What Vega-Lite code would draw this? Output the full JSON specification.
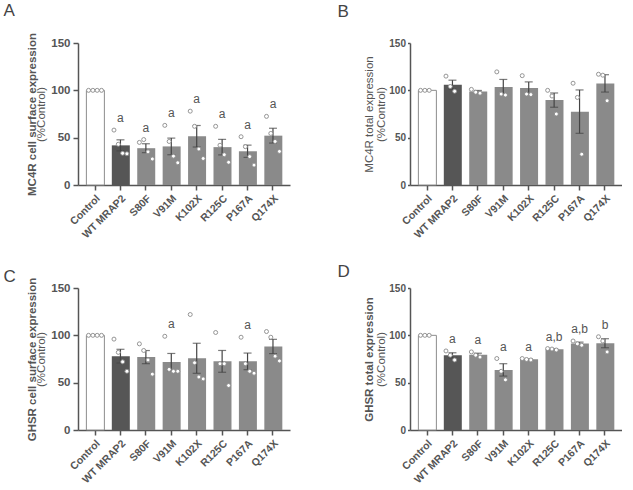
{
  "$schema": "https://vega.github.io/schema/vega-lite/v6.json",
  "padding": {"left": 3, "top": 1, "right": 0, "bottom": 0},
  "background": "white",
  "datasets": {
    "A": [
      {"g": "Control", "r": 1, "v": 100}, {"g": "Control", "r": 2, "v": 100}, {"g": "Control", "r": 3, "v": 100}, {"g": "Control", "r": 4, "v": 100},
      {"g": "WT MRAP2", "r": 1, "v": 58}, {"g": "WT MRAP2", "r": 2, "v": 43}, {"g": "WT MRAP2", "r": 3, "v": 33.5}, {"g": "WT MRAP2", "r": 4, "v": 33},
      {"g": "S80F", "r": 1, "v": 45}, {"g": "S80F", "r": 2, "v": 48}, {"g": "S80F", "r": 3, "v": 35}, {"g": "S80F", "r": 4, "v": 27.5},
      {"g": "V91M", "r": 1, "v": 63}, {"g": "V91M", "r": 2, "v": 46}, {"g": "V91M", "r": 3, "v": 30.5}, {"g": "V91M", "r": 4, "v": 23.5},
      {"g": "K102X", "r": 1, "v": 78}, {"g": "K102X", "r": 2, "v": 62}, {"g": "K102X", "r": 3, "v": 38}, {"g": "K102X", "r": 4, "v": 28},
      {"g": "R125C", "r": 1, "v": 62}, {"g": "R125C", "r": 2, "v": 42}, {"g": "R125C", "r": 3, "v": 32}, {"g": "R125C", "r": 4, "v": 24},
      {"g": "P167A", "r": 1, "v": 51}, {"g": "P167A", "r": 2, "v": 40.5}, {"g": "P167A", "r": 3, "v": 30}, {"g": "P167A", "r": 4, "v": 21},
      {"g": "Q174X", "r": 1, "v": 72.5}, {"g": "Q174X", "r": 2, "v": 54.5}, {"g": "Q174X", "r": 3, "v": 46}, {"g": "Q174X", "r": 4, "v": 35.5}
    ],
    "B": [
      {"g": "Control", "r": 1, "v": 100}, {"g": "Control", "r": 2, "v": 100}, {"g": "Control", "r": 3, "v": 100},
      {"g": "WT MRAP2", "r": 1, "v": 115}, {"g": "WT MRAP2", "r": 2, "v": 104}, {"g": "WT MRAP2", "r": 3, "v": 99},
      {"g": "S80F", "r": 1, "v": 101}, {"g": "S80F", "r": 2, "v": 98}, {"g": "S80F", "r": 3, "v": 97},
      {"g": "V91M", "r": 1, "v": 119.5}, {"g": "V91M", "r": 2, "v": 96}, {"g": "V91M", "r": 3, "v": 95},
      {"g": "K102X", "r": 1, "v": 115.5}, {"g": "K102X", "r": 2, "v": 96}, {"g": "K102X", "r": 3, "v": 95.5},
      {"g": "R125C", "r": 1, "v": 100}, {"g": "R125C", "r": 2, "v": 94}, {"g": "R125C", "r": 3, "v": 75},
      {"g": "P167A", "r": 1, "v": 107.5}, {"g": "P167A", "r": 2, "v": 92.5}, {"g": "P167A", "r": 3, "v": 32.5},
      {"g": "Q174X", "r": 1, "v": 117}, {"g": "Q174X", "r": 2, "v": 116}, {"g": "Q174X", "r": 3, "v": 89}
    ],
    "C": [
      {"g": "Control", "r": 1, "v": 100}, {"g": "Control", "r": 2, "v": 100}, {"g": "Control", "r": 3, "v": 100}, {"g": "Control", "r": 4, "v": 100},
      {"g": "WT MRAP2", "r": 1, "v": 96}, {"g": "WT MRAP2", "r": 2, "v": 82}, {"g": "WT MRAP2", "r": 3, "v": 72}, {"g": "WT MRAP2", "r": 4, "v": 62},
      {"g": "S80F", "r": 1, "v": 91}, {"g": "S80F", "r": 2, "v": 84}, {"g": "S80F", "r": 3, "v": 74}, {"g": "S80F", "r": 4, "v": 59},
      {"g": "V91M", "r": 1, "v": 99}, {"g": "V91M", "r": 2, "v": 64}, {"g": "V91M", "r": 3, "v": 62}, {"g": "V91M", "r": 4, "v": 62},
      {"g": "K102X", "r": 1, "v": 122}, {"g": "K102X", "r": 2, "v": 71}, {"g": "K102X", "r": 3, "v": 56}, {"g": "K102X", "r": 4, "v": 54},
      {"g": "R125C", "r": 1, "v": 103}, {"g": "R125C", "r": 2, "v": 70}, {"g": "R125C", "r": 3, "v": 70}, {"g": "R125C", "r": 4, "v": 47},
      {"g": "P167A", "r": 1, "v": 98}, {"g": "P167A", "r": 2, "v": 70}, {"g": "P167A", "r": 3, "v": 62}, {"g": "P167A", "r": 4, "v": 60},
      {"g": "Q174X", "r": 1, "v": 104}, {"g": "Q174X", "r": 2, "v": 98}, {"g": "Q174X", "r": 3, "v": 78}, {"g": "Q174X", "r": 4, "v": 73}
    ],
    "D": [
      {"g": "Control", "r": 1, "v": 100}, {"g": "Control", "r": 2, "v": 100}, {"g": "Control", "r": 3, "v": 100},
      {"g": "WT MRAP2", "r": 1, "v": 83.5}, {"g": "WT MRAP2", "r": 2, "v": 79}, {"g": "WT MRAP2", "r": 3, "v": 74},
      {"g": "S80F", "r": 1, "v": 82.5}, {"g": "S80F", "r": 2, "v": 79}, {"g": "S80F", "r": 3, "v": 77},
      {"g": "V91M", "r": 1, "v": 75.5}, {"g": "V91M", "r": 2, "v": 62}, {"g": "V91M", "r": 3, "v": 53},
      {"g": "K102X", "r": 1, "v": 75.5}, {"g": "K102X", "r": 2, "v": 74.5}, {"g": "K102X", "r": 3, "v": 74},
      {"g": "R125C", "r": 1, "v": 86}, {"g": "R125C", "r": 2, "v": 85.5}, {"g": "R125C", "r": 3, "v": 84.5},
      {"g": "P167A", "r": 1, "v": 94}, {"g": "P167A", "r": 2, "v": 91}, {"g": "P167A", "r": 3, "v": 89.5},
      {"g": "Q174X", "r": 1, "v": 98.5}, {"g": "Q174X", "r": 2, "v": 94}, {"g": "Q174X", "r": 3, "v": 82.5}
    ],
    "LA": [
      {"g": "WT MRAP2", "t": "a"}, {"g": "S80F", "t": "a"}, {"g": "V91M", "t": "a"}, {"g": "K102X", "t": "a"},
      {"g": "R125C", "t": "a"}, {"g": "P167A", "t": "a"}, {"g": "Q174X", "t": "a"}
    ],
    "LC": [
      {"g": "V91M", "t": "a"}, {"g": "P167A", "t": "a"}
    ],
    "LD": [
      {"g": "WT MRAP2", "t": "a"}, {"g": "S80F", "t": "a"}, {"g": "V91M", "t": "a"}, {"g": "K102X", "t": "a"},
      {"g": "R125C", "t": "a,b"}, {"g": "P167A", "t": "a,b"}, {"g": "Q174X", "t": "b"}
    ]
  },
  "vconcat": [
    {
      "hconcat": [
        {
          "width": 212, "height": 142,
          "data": {"name": "A"},
          "encoding": {"x": {"field": "g", "type": "nominal", "sort": ["Control", "WT MRAP2", "S80F", "V91M", "K102X", "R125C", "P167A", "Q174X"], "scale": {"paddingInner": 0.32, "paddingOuter": 0.33}}},
          "layer": [
            {"mark": {"type": "bar", "strokeWidth": 1},
             "encoding": {
               "y": {"aggregate": "mean", "field": "v", "type": "quantitative", "scale": {"domain": [0, 150], "nice": false}, "axis": {"values": [0, 50, 100, 150], "title": "(%Control)", "titleFontWeight": "normal", "titlePadding": 4}},
               "fill": {"field": "g", "type": "nominal", "scale": {"domain": ["Control", "WT MRAP2", "S80F", "V91M", "K102X", "R125C", "P167A", "Q174X"], "range": ["#ffffff", "#565656", "#8a8a8a", "#8a8a8a", "#8a8a8a", "#8a8a8a", "#8a8a8a", "#8a8a8a"]}, "legend": null},
               "stroke": {"condition": {"test": "datum.g === 'Control'", "value": "#8c8c8c"}, "value": null}}},
            {"mark": {"type": "errorbar", "extent": "stderr", "color": "#444444", "thickness": 1.2, "ticks": {"size": 8, "thickness": 1.2, "color": "#444444"}},
             "encoding": {"y": {"field": "v", "type": "quantitative", "axis": {"orient": "left", "labels": false, "ticks": false, "domain": false, "title": "A", "titleX": -75, "titleY": -28, "titleAngle": 0, "titleAlign": "left", "titleBaseline": "alphabetic", "titleFontSize": 17, "titleFontWeight": "normal", "titleColor": "#444444"}}}},
            {"mark": {"type": "point", "shape": "circle", "filled": false, "fill": "#ffffff", "fillOpacity": 1, "stroke": "#8a8a8a", "strokeWidth": 0.9, "size": 16, "opacity": 1},
             "encoding": {
               "xOffset": {"field": "r", "type": "nominal"},
               "y": {"field": "v", "type": "quantitative", "axis": {"orient": "left", "title": "MC4R cell surface expression", "titleFontWeight": "bold", "labels": false, "ticks": false, "domain": false, "titlePadding": 41}}}},
            {"transform": [
               {"aggregate": [{"op": "max", "field": "v", "as": "top"}], "groupby": ["g"]},
               {"lookup": "g", "from": {"data": {"name": "LA"}, "key": "g", "fields": ["t"]}},
               {"filter": "datum.t != null"}],
             "mark": {"type": "text", "baseline": "alphabetic", "dy": -8, "fontSize": 12, "font": "Liberation Sans", "fill": "#555555"},
             "encoding": {"y": {"field": "top", "type": "quantitative", "axis": null}, "text": {"field": "t"}}}
          ],
          "resolve": {"axis": {"y": "independent"}}
        },
        {
          "width": 212, "height": 142,
          "data": {"name": "B"},
          "encoding": {"x": {"field": "g", "type": "nominal", "sort": ["Control", "WT MRAP2", "S80F", "V91M", "K102X", "R125C", "P167A", "Q174X"], "scale": {"paddingInner": 0.32, "paddingOuter": 0.33}}},
          "layer": [
            {"mark": {"type": "bar", "strokeWidth": 1},
             "encoding": {
               "y": {"aggregate": "mean", "field": "v", "type": "quantitative", "scale": {"domain": [0, 150], "nice": false}, "axis": {"values": [0, 50, 100, 150], "title": "(%Control)", "titleFontWeight": "normal", "titlePadding": 2, "tickSize": 2.5, "labelFontSize": 10, "labelPadding": 2}},
               "fill": {"field": "g", "type": "nominal", "scale": {"domain": ["Control", "WT MRAP2", "S80F", "V91M", "K102X", "R125C", "P167A", "Q174X"], "range": ["#ffffff", "#565656", "#8a8a8a", "#8a8a8a", "#8a8a8a", "#8a8a8a", "#8a8a8a", "#8a8a8a"]}, "legend": null},
               "stroke": {"condition": {"test": "datum.g === 'Control'", "value": "#8c8c8c"}, "value": null}}},
            {"mark": {"type": "errorbar", "extent": "stderr", "color": "#444444", "thickness": 1.2, "ticks": {"size": 8, "thickness": 1.2, "color": "#444444"}},
             "encoding": {"y": {"field": "v", "type": "quantitative", "axis": {"orient": "left", "labels": false, "ticks": false, "domain": false, "title": "B", "titleX": -73, "titleY": -27, "titleAngle": 0, "titleAlign": "left", "titleBaseline": "alphabetic", "titleFontSize": 17, "titleFontWeight": "normal", "titleColor": "#444444"}}}},
            {"mark": {"type": "point", "shape": "circle", "filled": false, "fill": "#ffffff", "fillOpacity": 1, "stroke": "#8a8a8a", "strokeWidth": 0.9, "size": 16, "opacity": 1},
             "encoding": {
               "xOffset": {"field": "r", "type": "nominal"},
               "y": {"field": "v", "type": "quantitative", "axis": {"orient": "left", "title": "MC4R total expression", "titleFontWeight": "normal", "labels": false, "ticks": false, "domain": false, "titlePadding": 36}}}}
          ],
          "resolve": {"axis": {"y": "independent"}}
        }
      ]
    },
    {
      "hconcat": [
        {
          "width": 212, "height": 142,
          "data": {"name": "C"},
          "encoding": {"x": {"field": "g", "type": "nominal", "sort": ["Control", "WT MRAP2", "S80F", "V91M", "K102X", "R125C", "P167A", "Q174X"], "scale": {"paddingInner": 0.32, "paddingOuter": 0.33}}},
          "layer": [
            {"mark": {"type": "bar", "strokeWidth": 1},
             "encoding": {
               "y": {"aggregate": "mean", "field": "v", "type": "quantitative", "scale": {"domain": [0, 150], "nice": false}, "axis": {"values": [0, 50, 100, 150], "title": "(%Control)", "titleFontWeight": "normal", "titlePadding": 4}},
               "fill": {"field": "g", "type": "nominal", "scale": {"domain": ["Control", "WT MRAP2", "S80F", "V91M", "K102X", "R125C", "P167A", "Q174X"], "range": ["#ffffff", "#565656", "#8a8a8a", "#8a8a8a", "#8a8a8a", "#8a8a8a", "#8a8a8a", "#8a8a8a"]}, "legend": null},
               "stroke": {"condition": {"test": "datum.g === 'Control'", "value": "#8c8c8c"}, "value": null}}},
            {"mark": {"type": "errorbar", "extent": "stderr", "color": "#444444", "thickness": 1.2, "ticks": {"size": 8, "thickness": 1.2, "color": "#444444"}},
             "encoding": {"y": {"field": "v", "type": "quantitative", "axis": {"orient": "left", "labels": false, "ticks": false, "domain": false, "title": "C", "titleX": -75, "titleY": -7, "titleAngle": 0, "titleAlign": "left", "titleBaseline": "alphabetic", "titleFontSize": 17, "titleFontWeight": "normal", "titleColor": "#444444"}}}},
            {"mark": {"type": "point", "shape": "circle", "filled": false, "fill": "#ffffff", "fillOpacity": 1, "stroke": "#8a8a8a", "strokeWidth": 0.9, "size": 16, "opacity": 1},
             "encoding": {
               "xOffset": {"field": "r", "type": "nominal"},
               "y": {"field": "v", "type": "quantitative", "axis": {"orient": "left", "title": "GHSR cell surface expression", "titleFontWeight": "bold", "labels": false, "ticks": false, "domain": false, "titlePadding": 41}}}},
            {"transform": [
               {"aggregate": [{"op": "max", "field": "v", "as": "top"}], "groupby": ["g"]},
               {"lookup": "g", "from": {"data": {"name": "LC"}, "key": "g", "fields": ["t"]}},
               {"filter": "datum.t != null"}],
             "mark": {"type": "text", "baseline": "alphabetic", "dy": -8, "fontSize": 12, "font": "Liberation Sans", "fill": "#555555"},
             "encoding": {"y": {"field": "top", "type": "quantitative", "axis": null}, "text": {"field": "t"}}}
          ],
          "resolve": {"axis": {"y": "independent"}}
        },
        {
          "width": 212, "height": 142,
          "data": {"name": "D"},
          "encoding": {"x": {"field": "g", "type": "nominal", "sort": ["Control", "WT MRAP2", "S80F", "V91M", "K102X", "R125C", "P167A", "Q174X"], "scale": {"paddingInner": 0.32, "paddingOuter": 0.33}}},
          "layer": [
            {"mark": {"type": "bar", "strokeWidth": 1},
             "encoding": {
               "y": {"aggregate": "mean", "field": "v", "type": "quantitative", "scale": {"domain": [0, 150], "nice": false}, "axis": {"values": [0, 50, 100, 150], "title": "(%Control)", "titleFontWeight": "normal", "titlePadding": 2, "tickSize": 2.5, "labelFontSize": 10, "labelPadding": 2}},
               "fill": {"field": "g", "type": "nominal", "scale": {"domain": ["Control", "WT MRAP2", "S80F", "V91M", "K102X", "R125C", "P167A", "Q174X"], "range": ["#ffffff", "#565656", "#8a8a8a", "#8a8a8a", "#8a8a8a", "#8a8a8a", "#8a8a8a", "#8a8a8a"]}, "legend": null},
               "stroke": {"condition": {"test": "datum.g === 'Control'", "value": "#8c8c8c"}, "value": null}}},
            {"mark": {"type": "errorbar", "extent": "stderr", "color": "#444444", "thickness": 1.2, "ticks": {"size": 8, "thickness": 1.2, "color": "#444444"}},
             "encoding": {"y": {"field": "v", "type": "quantitative", "axis": {"orient": "left", "labels": false, "ticks": false, "domain": false, "title": "D", "titleX": -73, "titleY": -12, "titleAngle": 0, "titleAlign": "left", "titleBaseline": "alphabetic", "titleFontSize": 17, "titleFontWeight": "normal", "titleColor": "#444444"}}}},
            {"mark": {"type": "point", "shape": "circle", "filled": false, "fill": "#ffffff", "fillOpacity": 1, "stroke": "#8a8a8a", "strokeWidth": 0.9, "size": 16, "opacity": 1},
             "encoding": {
               "xOffset": {"field": "r", "type": "nominal"},
               "y": {"field": "v", "type": "quantitative", "axis": {"orient": "left", "title": "GHSR total expression", "titleFontWeight": "bold", "labels": false, "ticks": false, "domain": false, "titlePadding": 36}}}},
            {"transform": [
               {"aggregate": [{"op": "max", "field": "v", "as": "top"}], "groupby": ["g"]},
               {"lookup": "g", "from": {"data": {"name": "LD"}, "key": "g", "fields": ["t"]}},
               {"filter": "datum.t != null"}],
             "mark": {"type": "text", "baseline": "alphabetic", "dy": -8, "fontSize": 12, "font": "Liberation Sans", "fill": "#555555"},
             "encoding": {"y": {"field": "top", "type": "quantitative", "axis": null}, "text": {"field": "t"}}}
          ],
          "resolve": {"axis": {"y": "independent"}}
        }
      ]
    }
  ],
  "spacing": 21,
  "config": {
    "view": {"stroke": null},
    "concat": {"spacing": 47},
    "axis": {"grid": false, "domainColor": "#555555", "domainWidth": 1.5, "tickColor": "#555555", "tickWidth": 1.5, "tickSize": 5,
             "labelFont": "Liberation Sans", "labelFontWeight": "bold", "labelFontSize": 11.5, "labelColor": "#555555",
             "titleFont": "Liberation Sans", "titleFontSize": 11.5, "titleColor": "#555555"},
    "axisX": {"labelAngle": -45, "title": null, "labelPadding": 3, "labelFontSize": 10.5, "tickSize": 5},
    "axisY": {"labelPadding": 3}
  }
}
